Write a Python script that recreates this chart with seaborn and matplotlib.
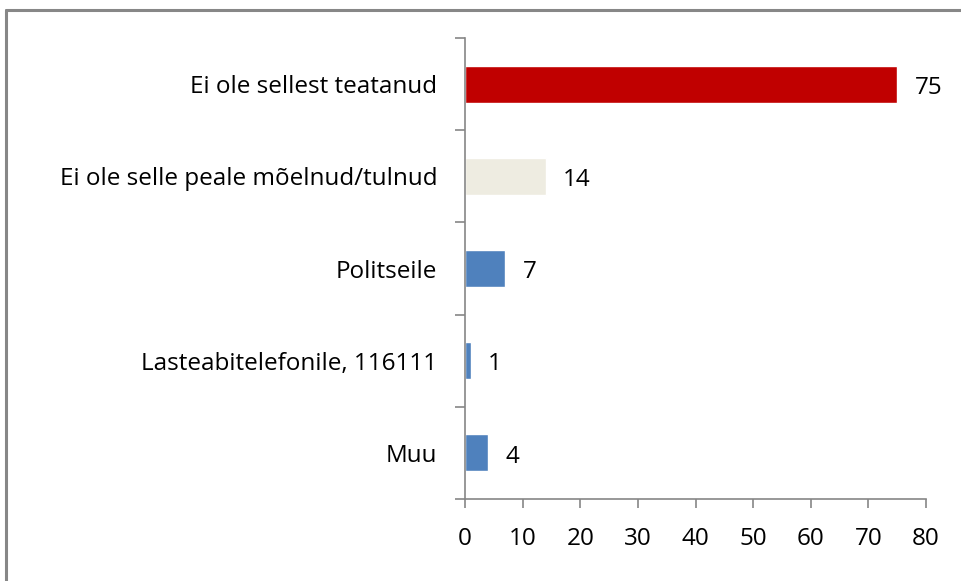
import matplotlib
matplotlib.use("Agg")
import matplotlib.pyplot as plt
from matplotlib.lines import Line2D
import seaborn as sns
import pandas as pd

categories = ["Ei ole sellest teatanud", "Ei ole selle peale mõelnud/tulnud",
              "Politseile", "Lasteabitelefonile, 116111", "Muu"]
values = [75, 14, 7, 1, 4]
colors = ["#C00000", "#EEECE1", "#4F81BD", "#4F81BD", "#4F81BD"]
xticks = [0, 10, 20, 30, 40, 50, 60, 70, 80]

sns.set_style("white")
plt.rcParams['font.family'] = ['Open Sans', 'DejaVu Sans']
plt.rcParams['text.color'] = 'black'
plt.rcParams['xtick.color'] = 'black'
plt.rcParams['ytick.color'] = 'black'

df = pd.DataFrame({"cat": categories, "val": values})

fig = plt.figure(figsize=(9.61, 5.81), dpi=100)
ax = fig.add_axes([465/961, 1-499/581, (926-465)/961, (499-38)/581])

sns.barplot(data=df, y="cat", x="val", hue="cat", palette=dict(zip(categories, colors)),
            order=categories, hue_order=categories, width=0.4, legend=False,
            saturation=1, ax=ax, orient="h")

fs = 17.5
ax.set_xlim(0, 80)
ax.set_ylim(len(categories) - 0.5, -0.5)
ax.set_xticks(xticks)
ax.set_xticklabels([str(t) for t in xticks], fontsize=fs)
ax.set_yticks(range(len(categories)))
ax.set_yticklabels(categories, fontsize=fs)
ax.tick_params(axis='y', length=0, pad=20, labelcolor='black')
ax.tick_params(axis='x', length=6.5, width=1.2, color="#868686", pad=14, bottom=True,
               labelcolor='black')
ax.set_yticks([i - 0.5 for i in range(len(categories) + 1)], minor=True)
ax.tick_params(axis='y', which='minor', length=7, width=1.2, color="#868686", left=True)
ax.set_xlabel("")
ax.set_ylabel("")
for s in ["top", "right"]:
    ax.spines[s].set_visible(False)
for s in ["left", "bottom"]:
    ax.spines[s].set_color("#868686")
    ax.spines[s].set_linewidth(1.2)

for i, v in enumerate(values):
    ax.text(v + 3.0, i + 0.04, str(v), va="center", ha="left", fontsize=fs, color="black")

# outer frame
fig.add_artist(Line2D([6/961, 6/961], [0, 1-10/581], transform=fig.transFigure,
                      color="#878787", lw=2.2))
fig.add_artist(Line2D([6/961, 1], [1-10/581, 1-10/581], transform=fig.transFigure,
                      color="#878787", lw=2.2))

fig.savefig("out.png", dpi=100)
